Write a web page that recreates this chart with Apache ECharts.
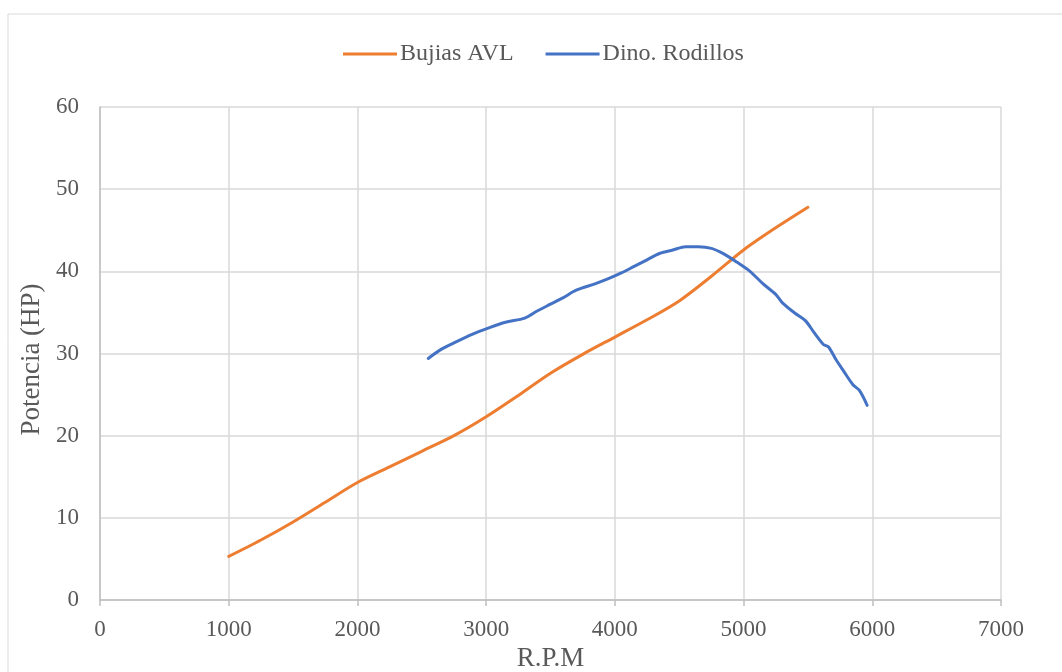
<!DOCTYPE html>
<html>
<head>
<meta charset="utf-8">
<script src="https://cdn.jsdelivr.net/npm/echarts@6/dist/echarts.min.js"></script>
<style>
  html, body { margin: 0; padding: 0; background: #fff; }
  #chart { width: 1062px; height: 672px; }
</style>
</head>
<body>
<div id="chart"></div>
<script>
// Power curves: engine speed (RPM) vs power (HP)
const bujiasRpm = [1000, 1250, 1500, 1750, 2000, 2250, 2500, 2750, 3000, 3250, 3500, 3750, 4000, 4250, 4500, 4750, 5000, 5250, 5500];
const bujiasHp  = [5.3, 7.3, 9.5, 11.9, 14.3, 16.2, 18.1, 20.0, 22.3, 24.9, 27.6, 29.9, 32.0, 34.1, 36.4, 39.4, 42.6, 45.3, 47.8];

const dinoRpm = [2550, 2650, 2750, 2900, 3000, 3150, 3300, 3400, 3500, 3600, 3700, 3850, 3950, 4050, 4150, 4250, 4350, 4450, 4550, 4650, 4750, 4850, 4950, 5050, 5150, 5250, 5300, 5400, 5480, 5550, 5620, 5660, 5720, 5780, 5850, 5900, 5960];
const dinoHp  = [29.4, 30.5, 31.3, 32.4, 33.0, 33.8, 34.3, 35.2, 36.0, 36.8, 37.7, 38.5, 39.1, 39.8, 40.6, 41.4, 42.2, 42.6, 43.0, 43.0, 42.8, 42.1, 41.1, 40.0, 38.5, 37.2, 36.2, 34.9, 34.0, 32.5, 31.1, 30.8, 29.2, 27.8, 26.2, 25.5, 23.7];

const seriesNames = ['Bujias AVL', 'Dino. Rodillos'];
const seriesColors = ['#ED7D31', '#4472C4'];

const zip = (xs, ys) => xs.map((x, i) => [x, ys[i]]);

const FONT = '"Liberation Serif", "Times New Roman", serif';
const chart = echarts.init(document.getElementById('chart'), null, { renderer: 'canvas' });

chart.setOption({
  animation: false,
  backgroundColor: '#ffffff',
  textStyle: { fontFamily: FONT },
  graphic: [{
    type: 'rect',
    shape: { x: 8, y: 14, width: 1100, height: 700 },
    style: { fill: 'none', stroke: '#d9d9d9', lineWidth: 1 },
    silent: true,
    z: -10
  }],
  legend: {
    top: 42,
    left: 343,
    padding: 0,
    data: seriesNames.map((n, i) => ({ name: n, icon: 'rect', itemStyle: { color: seriesColors[i] } })),
    itemWidth: 54,
    itemHeight: 3,
    itemGap: 32,
    textStyle: { fontFamily: FONT, fontSize: 24, color: '#595959', padding: [0, 0, 0, -2] }
  },
  grid: { left: 100, right: 61, top: 107, bottom: 72, containLabel: false, outerBoundsMode: 'none' },
  xAxis: {
    type: 'value',
    min: 0, max: 7000, interval: 1000,
    name: 'R.P.M',
    nameLocation: 'middle',
    nameGap: 44,
    nameTextStyle: { fontFamily: FONT, fontSize: 27, color: '#595959' },
    axisLine: { show: true, lineStyle: { color: '#bfbfbf', width: 1.5 } },
    axisTick: { show: true, length: 6, lineStyle: { color: '#bfbfbf', width: 1.5 } },
    axisLabel: { fontFamily: FONT, fontSize: 23, color: '#595959', margin: 18, formatter: v => String(v) },
    splitLine: { show: true, lineStyle: { color: '#d9d9d9', width: 1.5 } }
  },
  yAxis: {
    type: 'value',
    min: 0, max: 60, interval: 10,
    name: 'Potencia (HP)',
    nameLocation: 'middle',
    nameGap: 52,
    nameTextStyle: { fontFamily: FONT, fontSize: 27, color: '#595959', padding: [0, 12, 0, 0] },
    axisLine: { show: true, lineStyle: { color: '#bfbfbf', width: 1.5 } },
    axisTick: { show: false },
    axisLabel: { fontFamily: FONT, fontSize: 23, color: '#595959', margin: 21, formatter: v => String(v) },
    splitLine: { show: true, lineStyle: { color: '#d9d9d9', width: 1.5 } }
  },
  series: [
    {
      name: seriesNames[0],
      type: 'line',
      data: zip(bujiasRpm, bujiasHp),
      smooth: 0.3,
      showSymbol: false,
      symbol: 'none',
      color: seriesColors[0],
      lineStyle: { color: seriesColors[0], width: 3, cap: 'round' }
    },
    {
      name: seriesNames[1],
      type: 'line',
      data: zip(dinoRpm, dinoHp),
      smooth: 0.3,
      showSymbol: false,
      symbol: 'none',
      color: seriesColors[1],
      lineStyle: { color: seriesColors[1], width: 3, cap: 'round' }
    }
  ]
});
</script>
</body>
</html>
